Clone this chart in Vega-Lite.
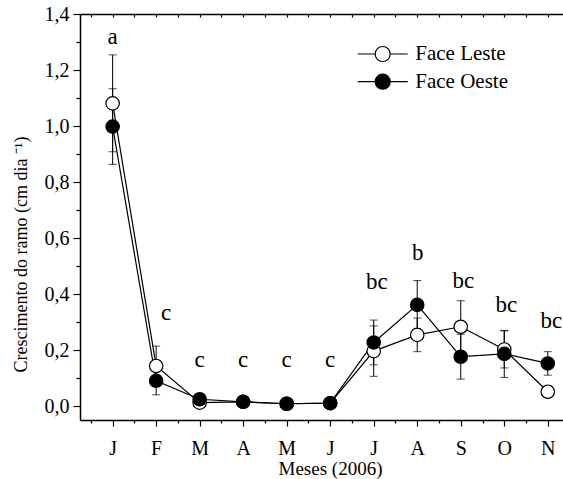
{
  "$schema": "https://vega.github.io/schema/vega-lite/v6.json",
  "autosize": "none",
  "width": 483,
  "height": 406,
  "padding": {"left": 80, "top": 14, "right": 0, "bottom": 59},
  "background": "white",
  "config": {
    "font": "Liberation Serif",
    "view": {"stroke": null},
    "axis": {"domainColor": "black", "domainWidth": 1.5, "tickColor": "black", "tickWidth": 1.2, "labelColor": "black", "titleColor": "black", "labelFont": "Liberation Serif", "titleFont": "Liberation Serif", "titleFontWeight": "normal", "grid": false}
  },
  "datasets": {
    "pts": [
      {"m": 1, "serie": "Face Leste", "v": 1.081, "err": 0.173},
      {"m": 2, "serie": "Face Leste", "v": 0.143, "err": 0.071},
      {"m": 3, "serie": "Face Leste", "v": 0.012, "err": 0.005},
      {"m": 4, "serie": "Face Leste", "v": 0.015, "err": 0.004},
      {"m": 5, "serie": "Face Leste", "v": 0.008, "err": 0.003},
      {"m": 6, "serie": "Face Leste", "v": 0.010, "err": 0.003},
      {"m": 7, "serie": "Face Leste", "v": 0.196, "err": 0.090},
      {"m": 8, "serie": "Face Leste", "v": 0.254, "err": 0.060},
      {"m": 9, "serie": "Face Leste", "v": 0.283, "err": 0.093},
      {"m": 10, "serie": "Face Leste", "v": 0.202, "err": 0.066},
      {"m": 11, "serie": "Face Leste", "v": 0.051, "err": 0.020},
      {"m": 1, "serie": "Face Oeste", "v": 0.998, "err": 0.135},
      {"m": 2, "serie": "Face Oeste", "v": 0.090, "err": 0.050},
      {"m": 3, "serie": "Face Oeste", "v": 0.024, "err": 0.006},
      {"m": 4, "serie": "Face Oeste", "v": 0.015, "err": 0.004},
      {"m": 5, "serie": "Face Oeste", "v": 0.008, "err": 0.003},
      {"m": 6, "serie": "Face Oeste", "v": 0.010, "err": 0.003},
      {"m": 7, "serie": "Face Oeste", "v": 0.227, "err": 0.080},
      {"m": 8, "serie": "Face Oeste", "v": 0.361, "err": 0.087},
      {"m": 9, "serie": "Face Oeste", "v": 0.176, "err": 0.080},
      {"m": 10, "serie": "Face Oeste", "v": 0.186, "err": 0.084},
      {"m": 11, "serie": "Face Oeste", "v": 0.152, "err": 0.042}
    ],
    "letters": [
      {"m": 1, "v": 1.293, "t": "a"},
      {"m": 2.23, "v": 0.307, "t": "c"},
      {"m": 3, "v": 0.140, "t": "c"},
      {"m": 4, "v": 0.140, "t": "c"},
      {"m": 5, "v": 0.140, "t": "c"},
      {"m": 6, "v": 0.140, "t": "c"},
      {"m": 7.07, "v": 0.418, "t": "bc"},
      {"m": 8.01, "v": 0.521, "t": "b"},
      {"m": 9.06, "v": 0.421, "t": "bc"},
      {"m": 10.05, "v": 0.337, "t": "bc"},
      {"m": 11.08, "v": 0.277, "t": "bc"}
    ]
  },
  "resolve": {"axis": {"x": "independent", "y": "independent"}},
  "layer": [
    {
      "data": {"name": "pts"},
      "mark": {"type": "errorbar", "ticks": {"size": 8, "color": "black", "thickness": 1}, "rule": {"color": "black", "strokeWidth": 1}},
      "encoding": {
        "x": {"field": "m", "type": "quantitative", "scale": {"domain": [0.25, 11.35], "nice": false, "zero": false}, "axis": null},
        "y": {"field": "v", "type": "quantitative", "scale": {"domain": [-0.05, 1.4], "nice": false, "zero": false}, "axis": null},
        "yError": {"field": "err"},
        "detail": {"field": "serie"}
      }
    },
    {
      "data": {"name": "pts"},
      "mark": {"type": "line", "color": "black", "strokeWidth": 1.2},
      "encoding": {
        "x": {"field": "m", "type": "quantitative", "axis": {"orient": "top", "title": null, "labels": false, "ticks": false, "domain": true}},
        "y": {"field": "v", "type": "quantitative", "axis": {
          "orient": "left",
          "title": "Crescimento do ramo (cm dia ⁻¹)",
          "titleFontSize": 18,
          "titleX": -58.5,
          "titleY": 240,
          "titleBaseline": "middle",
          "values": [0, 0.1, 0.2, 0.3, 0.4, 0.5, 0.6, 0.7, 0.8, 0.9, 1.0, 1.1, 1.2, 1.3, 1.4],
          "labelExpr": "round(datum.value * 10) % 2 === 0 ? replace(format(datum.value, '.1f'), '.', ',') : ''",
          "labelFontSize": 20,
          "labelPadding": 4,
          "labelOverlap": false,
          "labelFlush": false,
          "tickSize": {"condition": {"test": "round(datum.value * 10) % 2 === 0", "value": 7}, "value": 4}
        }},
        "detail": {"field": "serie"},
        "order": {"field": "m"}
      }
    },
    {
      "data": {"name": "pts"},
      "mark": {"type": "point", "shape": "circle", "size": 180, "stroke": "black", "strokeWidth": 1.2, "opacity": 1, "filled": true},
      "encoding": {
        "x": {"field": "m", "type": "quantitative", "axis": {
          "orient": "bottom",
          "title": "Meses (2006)",
          "titleFontSize": 19,
          "titleX": 250,
          "titlePadding": 1,
          "values": [0.5, 1, 1.5, 2, 2.5, 3, 3.5, 4, 4.5, 5, 5.5, 6, 6.5, 7, 7.5, 8, 8.5, 9, 9.5, 10, 10.5, 11],
          "labelExpr": "datum.value % 1 === 0 ? ['J','F','M','A','M','J','J','A','S','O','N'][datum.value - 1] : ''",
          "labelFontSize": 20,
          "labelPadding": 12,
          "labelFlush": false,
          "labelOverlap": false,
          "tickSize": {"condition": {"test": "datum.value % 1 === 0", "value": 6}, "value": 3}
        }},
        "y": {"field": "v", "type": "quantitative", "axis": null},
        "fill": {"field": "serie", "type": "nominal", "scale": {"domain": ["Face Leste", "Face Oeste"], "range": ["white", "black"]}, "legend": {
          "orient": "none",
          "legendX": 291.7,
          "legendY": 29,
          "title": null,
          "symbolType": "M-2.5,0L-0.75,0M0.75,0L2.5,0M0.75,0A0.75,0.75,0,1,1,-0.75,0A0.75,0.75,0,1,1,0.75,0Z",
          "symbolSize": 400,
          "symbolStrokeColor": "black",
          "symbolStrokeWidth": 1.2,
          "labelFont": "Liberation Serif",
          "labelFontSize": 21,
          "labelColor": "black",
          "labelOffset": 21.6,
          "rowPadding": 6.7
        }}
      }
    },
    {
      "data": {"name": "letters"},
      "mark": {"type": "text", "fontSize": 23, "baseline": "alphabetic", "align": "center", "color": "black"},
      "encoding": {
        "x": {"field": "m", "type": "quantitative", "axis": {
          "orient": "top",
          "title": null,
          "labels": false,
          "domain": false,
          "offset": -3,
          "values": [0.5, 1, 1.5, 2, 2.5, 3, 3.5, 4, 4.5, 5, 5.5, 6, 6.5, 7, 7.5, 8, 8.5, 9, 9.5, 10, 10.5, 11],
          "tickSize": 3
        }},
        "y": {"field": "v", "type": "quantitative", "axis": null},
        "text": {"field": "t"}
      }
    }
  ]
}
